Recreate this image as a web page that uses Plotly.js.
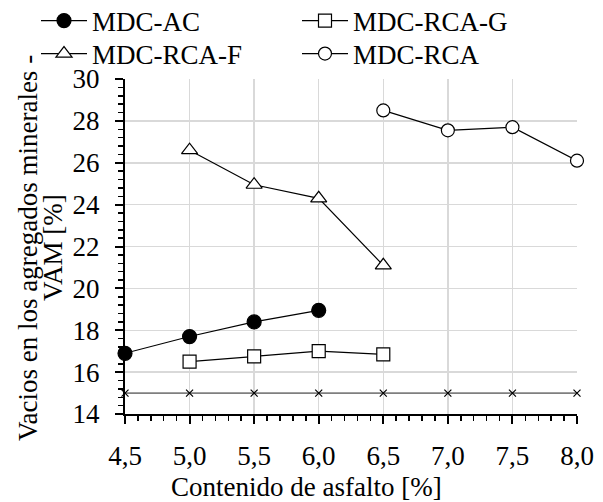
<!DOCTYPE html>
<html>
<head>
<meta charset="utf-8">
<script src="https://cdn.plot.ly/plotly-3.0.1.min.js"></script>
<style>html,body{margin:0;padding:0;background:#fff;}#chart{width:603px;height:502px;}</style>
</head>
<body>
<div id="chart"></div>
<script>
const xAC = [4.5, 5.0, 5.5, 6.0];
const yAC = [16.9, 17.7, 18.4, 18.95];
const xRCAG = [5.0, 5.5, 6.0, 6.5];
const yRCAG = [16.5, 16.75, 17.0, 16.85];
const xRCAF = [5.0, 5.5, 6.0, 6.5];
const yRCAF = [26.6, 24.95, 24.3, 21.1];
const xRCA = [6.5, 7.0, 7.5, 8.0];
const yRCA = [28.5, 27.55, 27.7, 26.1];
const xLim = [4.5, 5.0, 5.5, 6.0, 6.5, 7.0, 7.5, 8.0];
const yLim = [15, 15, 15, 15, 15, 15, 15, 15];
const xTitle = 'Contenido de asfalto [%]';
const yTitle1 = 'Vacios en los agregados minerales -';
const yTitle2 = 'VAM [%]';

const FS = 27;
const W = 603, H = 502;
const font = {family: 'Liberation Serif, Times New Roman, serif', color: '#000'};
function f(s) { return Object.assign({size: s}, font); }
function tr(x, y, name, symbol, fill, size, leg) {
  return {x: x, y: y, name: name, type: 'scatter', mode: 'lines+markers', cliponaxis: false, legend: leg,
    line: {color: '#000', width: 1.2},
    marker: {symbol: symbol, size: size, color: fill, line: {color: '#000', width: 1.2}}};
}
const data = [
  {x: xLim, y: yLim, type: 'scatter', mode: 'lines+markers', showlegend: false, cliponaxis: false,
   line: {color: '#7f7f7f', width: 1.8}, marker: {symbol: 'x-thin', size: 7, line: {color: '#000', width: 1.2}}},
  tr(xAC, yAC, 'MDC-AC', 'circle', '#000', 14, 'legend'),
  tr(xRCAG, yRCAG, 'MDC-RCA-G', 'square', '#fff', 13, 'legend2'),
  tr(xRCAF, yRCAF, 'MDC-RCA-F', 'triangle-up', '#fff', 14, 'legend3'),
  tr(xRCA, yRCA, 'MDC-RCA', 'circle', '#fff', 13, 'legend4')
];
function leg(px, py) {
  return {xref: 'container', yref: 'container', x: px / W, y: 1 - py / H, xanchor: 'left', yanchor: 'middle',
    font: f(FS), bgcolor: 'rgba(0,0,0,0)', itemwidth: 46};
}
function ann(text, px, py, angle) {
  return {text: text, xref: 'paper', yref: 'paper', x: (px - 125) / (W - 125 - 26), y: (H - 88 - py) / (H - 79 - 88),
    xanchor: 'center', yanchor: 'middle', showarrow: false, textangle: angle, font: f(FS)};
}
const layout = {
  width: W, height: H,
  margin: {l: 125, r: 26, t: 79, b: 88, autoexpand: false},
  paper_bgcolor: '#fff', plot_bgcolor: '#fff',
  separators: ', ',
  font: f(FS),
  showlegend: true,
  legend: leg(36, 21),
  legend2: leg(297, 21),
  legend3: leg(36, 54),
  legend4: leg(297, 54),
  annotations: [
    ann(xTitle, 306, 487, 0),
    ann(yTitle1, 28, 248, -90),
    ann(yTitle2, 53, 248, -90)
  ],
  xaxis: {range: [4.5, 8.0], tickvals: xLim, tickformat: '.1f',
    showgrid: true, gridcolor: '#d9d9d9', gridwidth: 1.5, zeroline: false,
    showline: true, linecolor: '#000', linewidth: 2, ticks: 'outside', ticklen: 8, tickwidth: 2, tickcolor: '#000',
    minor: {dtick: 0.1, ticks: 'outside', ticklen: 5, tickwidth: 1.5, tickcolor: '#000', showgrid: false},
    tickfont: f(FS), ticklabelstandoff: 9},
  yaxis: {range: [14, 30], dtick: 2, tick0: 14,
    showgrid: true, gridcolor: '#d9d9d9', gridwidth: 1.5, zeroline: false,
    showline: true, linecolor: '#000', linewidth: 2, ticks: 'outside', ticklen: 8, tickwidth: 2, tickcolor: '#000',
    minor: {dtick: 0.4, tick0: 14, ticks: 'outside', ticklen: 5, tickwidth: 1.5, tickcolor: '#000', showgrid: false},
    tickfont: f(FS), ticklabelstandoff: 10}
};
Plotly.newPlot('chart', data, layout, {displayModeBar: false, staticPlot: true});
</script>
</body>
</html>
